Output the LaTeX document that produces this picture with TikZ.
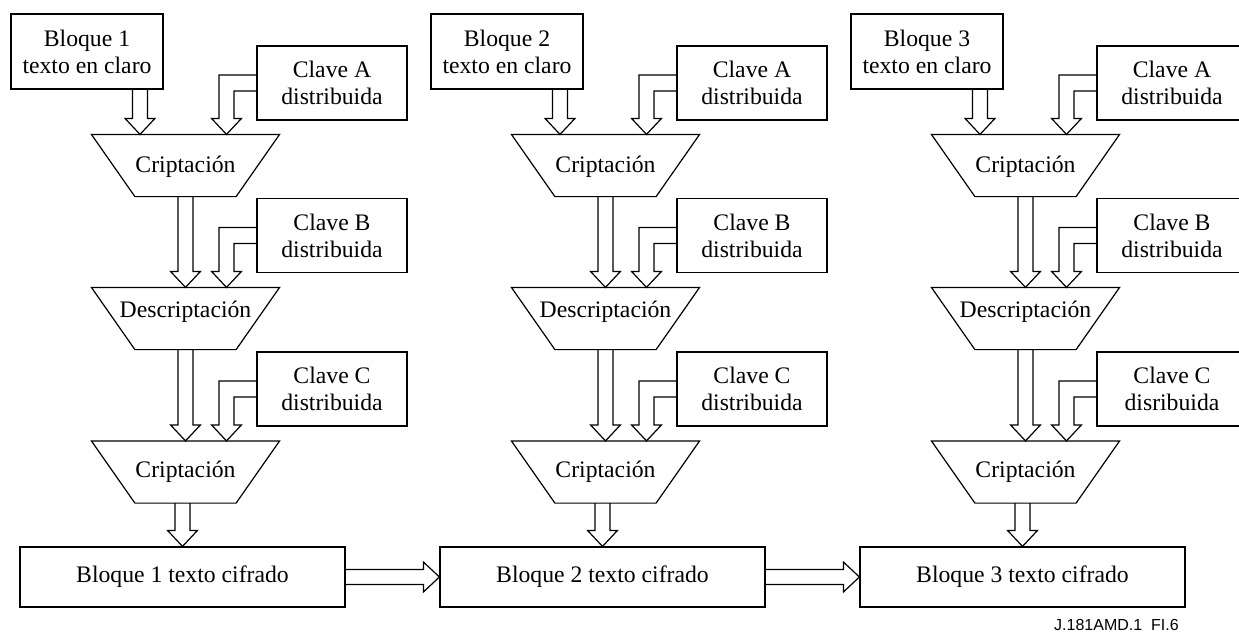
\documentclass[tikz,border=0pt]{standalone}
\usepackage{fontspec}
\setmainfont{Liberation Serif}
\newfontfamily\etiqueta{Liberation Sans}
\usetikzlibrary{calc}

\tikzset{
	caja/.style={draw, rectangle, align=center, inner sep=0pt},
	claro/.style={caja, minimum width=76pt, minimum height=37.5pt},
	clave/.style={caja, minimum width=75pt, minimum height=37pt},
	cifrado/.style={caja, minimum width=162.5pt, minimum height=30pt},
	etapa/.style={rectangle, minimum width=93.5pt, minimum height=30.5pt, inner sep=0pt},
}

% trapecio invertido alrededor de un nodo etapa
\newcommand{\trapecio}[1]{%
	\draw (#1.north west) -- (#1.north east) -- ($(#1.south east)+(-43.5,0)$)
		-- ($(#1.south west)+(43.5,0)$) -- cycle;}
% flechas huecas
\newcommand{\flechabajo}[2]{%
	\draw let \p1=(#1), \p2=(#2) in
		(\x2-3.75pt,\y1) -- (\x2-3.75pt,\y2+8pt) -- (\x2-7.5pt,\y2+8pt) -- (\x2,\y2)
		-- (\x2+7.5pt,\y2+8pt) -- (\x2+3.75pt,\y2+8pt) -- (\x2+3.75pt,\y1);}
\newcommand{\flechaclave}[2]{%
	\draw let \p1=(#1.west), \p2=(#2.north) in
		(\x1,\y1+4pt) -- (\x2+16.75pt,\y1+4pt) -- (\x2+16.75pt,\y2+8pt) -- (\x2+13pt,\y2+8pt)
		-- (\x2+20.5pt,\y2) -- (\x2+28pt,\y2+8pt) -- (\x2+24.25pt,\y2+8pt)
		-- (\x2+24.25pt,\y1-4pt) -- (\x1,\y1-4pt);}
\newcommand{\flechaderecha}[2]{%
	\draw let \p1=(#1.east), \p2=(#2.west) in
		(\x1,\y2+3.75pt) -- (\x2-8pt,\y2+3.75pt) -- (\x2-8pt,\y2+7.5pt) -- (\x2,\y2)
		-- (\x2-8pt,\y2-7.5pt) -- (\x2-8pt,\y2-3.75pt) -- (\x1,\y2-3.75pt);}

\begin{document}
\begin{tikzpicture}[x=0.5pt, y=-0.5pt, line width=0.6pt, font=\fontsize{11.85}{13.5}\selectfont]
	\clip (0,0) rectangle (1239,633);
	\foreach \i/\dx/\dist in {1/0/distribuida, 2/420/distribuida, 3/840/disribuida} {
		\node[claro] (claro\i) at (87+\dx, 51.5) {Bloque \i\\texto en claro};
		\node[clave] (claveA\i) at (332+\dx, 83) {Clave A\\distribuida};
		\node[etapa, text depth=1pt] (cript\i) at (185.5+\dx, 165.5) {Criptación};
		\node[clave] (claveB\i) at (332+\dx, 235.5) {Clave B\\distribuida};
		\node[etapa, text height=8.5pt, text depth=10pt] (descr\i) at (185.5+\dx, 318.5) {Descriptación};
		\node[clave] (claveC\i) at (332+\dx, 389) {Clave C\\\dist};
		\node[etapa] (final\i) at (185.5+\dx, 472) {Criptación};
		\node[cifrado] (cifrado\i) at (182.5+\dx, 577) {Bloque \i\ texto cifrado};
		\trapecio{cript\i}
		\trapecio{descr\i}
		\trapecio{final\i}

		\flechabajo{claro\i.south}{$(cript\i.north)+(-45.5,0)$}
		\flechaclave{claveA\i}{cript\i}
		\flechabajo{cript\i.south}{descr\i.north}
		\flechaclave{claveB\i}{descr\i}
		\flechabajo{descr\i.south}{final\i.north}
		\flechaclave{claveC\i}{final\i}
		\flechabajo{final\i.south}{cifrado\i.north}
	}
	\flechaderecha{cifrado1}{cifrado2}
	\flechaderecha{cifrado2}{cifrado3}
	\node[anchor=base east, font=\etiqueta\fontsize{8}{9.6}\selectfont] (figura) at (1186, 630) {J.181AMD.1\ \ FI.6};
\end{tikzpicture}
\end{document}
